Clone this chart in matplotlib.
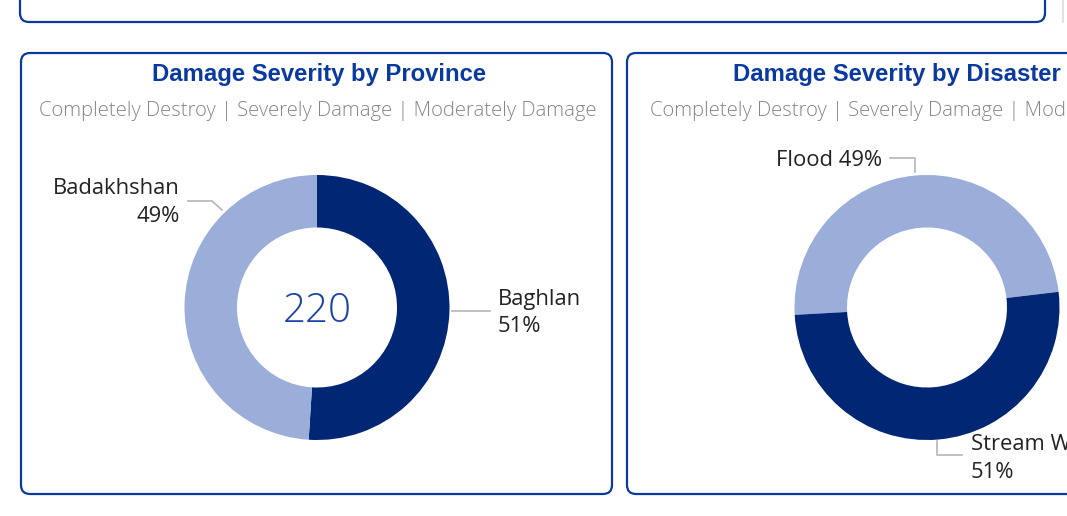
import matplotlib
matplotlib.use("Agg")
import matplotlib.pyplot as plt
from matplotlib.patches import FancyBboxPatch

W, H = 1067, 516
DPI = 100

# ---- data ----
province_labels = ["Baghlan", "Badakhshan"]
province_values = [51, 49]
province_total = 220

disaster_labels = ["Flood", "Stream W"]
disaster_values = [49, 51]

title1 = "Damage Severity by Province"
title2 = "Damage Severity by Disaster"
subtitle = "Completely Destroy | Severely Damage | Moderately Damage"
subtitle_cut = "Completely Destroy | Severely Damage | Mode"

DARK = "#012673"
LIGHT = "#9aaed9"
BLUE = "#0a3a9f"
GREY_TXT = "#858585"
LEADER = "#b5b5b5"

fig = plt.figure(figsize=(W / DPI, H / DPI), dpi=DPI)
fig.patch.set_facecolor("white")

ov = fig.add_axes([0, 0, 1, 1])
ov.set_xlim(0, W)
ov.set_ylim(H, 0)
ov.axis("off")

def panel(x0, y0, x1, y1):
    p = FancyBboxPatch((x0, y0), x1 - x0, y1 - y0,
                       boxstyle="round,pad=0,rounding_size=9",
                       facecolor="white", edgecolor=BLUE, linewidth=1.6,
                       clip_on=False)
    ov.add_patch(p)

panel(20, -20, 1045, 22)
panel(21, 53, 612, 494)
panel(627, 53, 1100, 494)
ov.plot([1062.5, 1062.5], [0, 22], color="#dddddd", lw=1.2)

# titles
ov.text(319, 75, title1, ha="center", va="center", fontsize=17.2,
        fontweight="bold", color=BLUE, family="Liberation Sans")
ov.text(318, 111, subtitle, ha="center", va="center", fontsize=14.6,
        color=GREY_TXT, family="Open Sans", fontweight="light")
ov.text(733, 75, title2, ha="left", va="center", fontsize=17.2,
        fontweight="bold", color=BLUE, family="Liberation Sans")
ov.text(650, 111, subtitle_cut, ha="left", va="center", fontsize=14.6,
        color=GREY_TXT, family="Open Sans", fontweight="light")

def donut_axes(cx, cy, r):
    ax = fig.add_axes([(cx - r) / W, (H - cy - r) / H, 2 * r / W, 2 * r / H])
    ax.set_xlim(-1, 1)
    ax.set_ylim(-1, 1)
    ax.axis("off")
    return ax

R = 132.5
WIDTH = 1 - 80 / 132.5

a1 = donut_axes(317, 307.5, R)
a1.pie(province_values, colors=[DARK, LIGHT], startangle=90, counterclock=False,
       radius=1, wedgeprops=dict(width=WIDTH, linewidth=0))
a1.set_xlim(-1, 1); a1.set_ylim(-1, 1)
a1.text(0, -0.03, str(province_total), ha="center", va="center", fontsize=29,
        color="#1a44a8", family="Open Sans", fontweight="light")

a2 = donut_axes(927, 307.5, R)
a2.pie(disaster_values, colors=[LIGHT, DARK], startangle=183.2, counterclock=False,
       radius=1, wedgeprops=dict(width=WIDTH, linewidth=0))
a2.set_xlim(-1, 1); a2.set_ylim(-1, 1)

LBL = dict(fontsize=15.8, color="#222222", family="Open Sans")

# donut 1 labels
ov.plot([188, 212, 222], [201, 201, 210], color=LEADER, lw=1.2)
ov.text(180, 189, province_labels[1], ha="right", va="center", **LBL)
ov.text(180, 216, f"{province_values[1]}%", ha="right", va="center", **LBL)
ov.plot([452, 490], [311, 311], color=LEADER, lw=1.2)
ov.text(498, 300, province_labels[0], ha="left", va="center", **LBL)
ov.text(498, 327, f"{province_values[0]}%", ha="left", va="center", **LBL)

# donut 2 labels
ov.plot([890, 915, 915], [158, 158, 172], color=LEADER, lw=1.2)
ov.text(882, 160, f"{disaster_labels[0]} {disaster_values[0]}%", ha="right",
        va="center", **LBL)
ov.plot([937, 937, 962], [441, 455, 455], color=LEADER, lw=1.2)
ov.text(971, 445, disaster_labels[1], ha="left", va="center", **LBL)
ov.text(971, 472, f"{disaster_values[1]}%", ha="left", va="center", **LBL)

fig.savefig("out.png", dpi=DPI, facecolor="white")
